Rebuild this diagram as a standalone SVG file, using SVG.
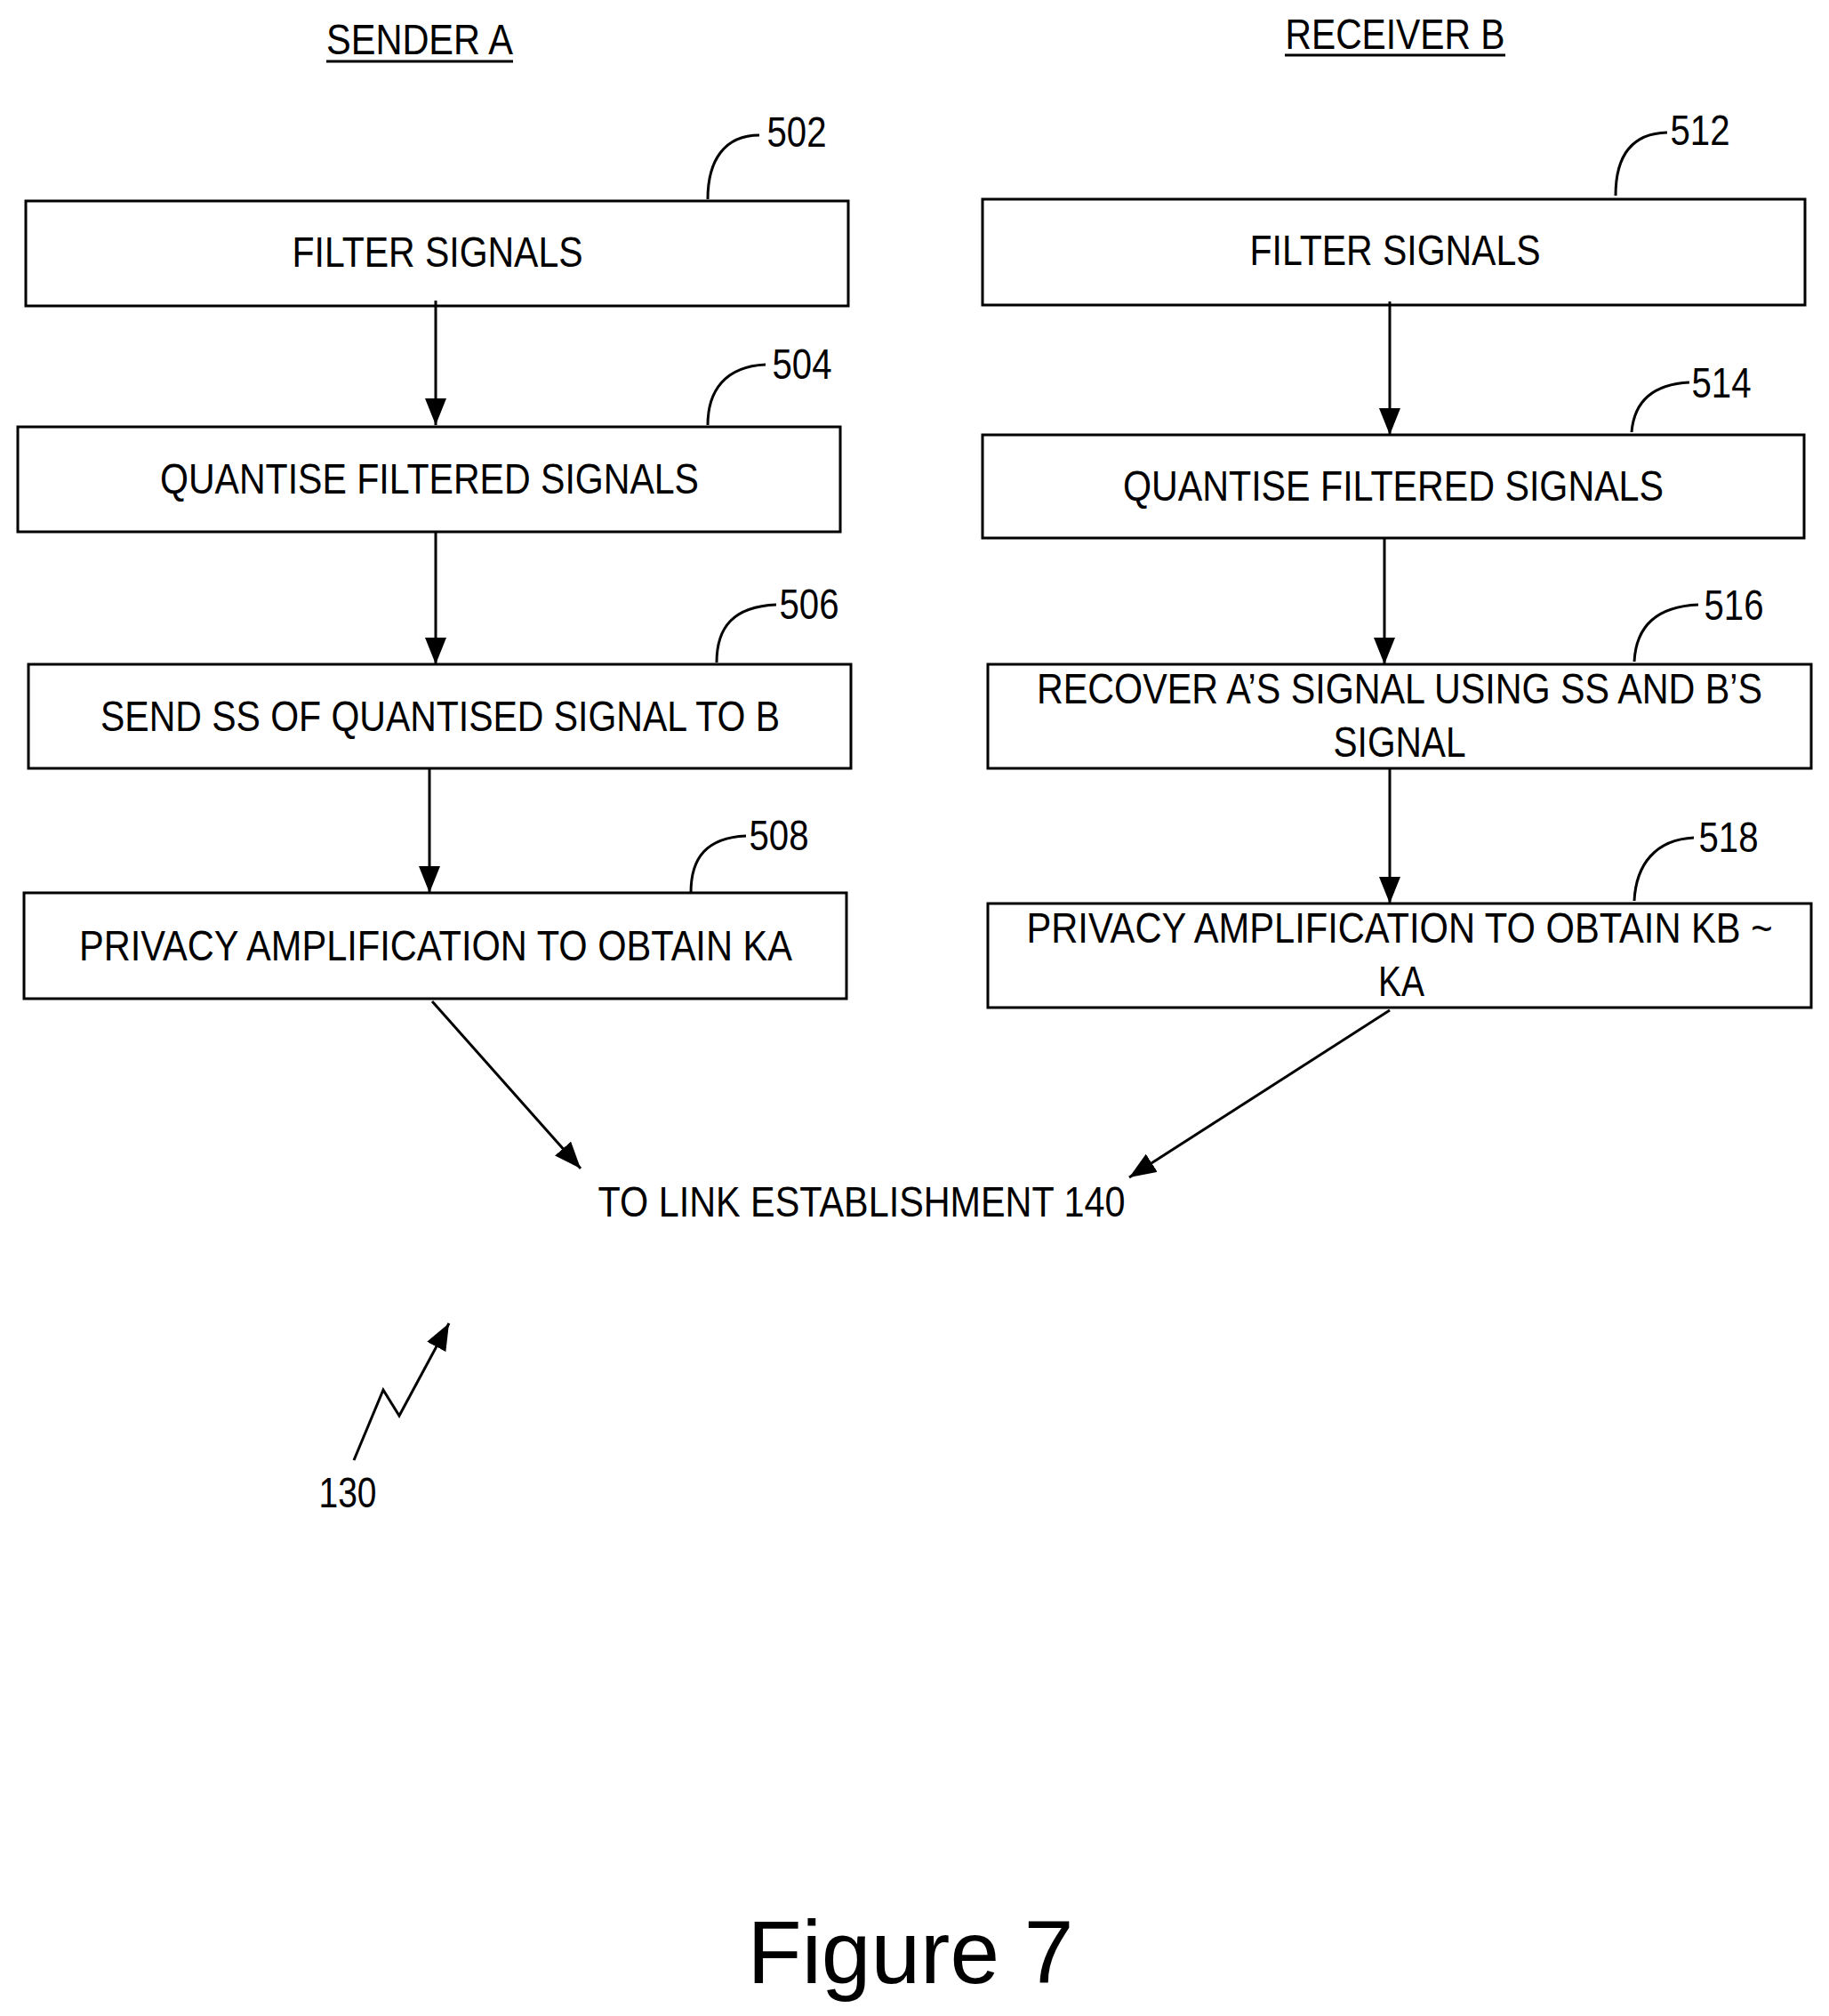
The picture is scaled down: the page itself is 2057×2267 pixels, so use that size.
<svg xmlns="http://www.w3.org/2000/svg" width="2057" height="2267" viewBox="0 0 2057 2267">
<style>
.b{fill:#fff;stroke:#000;stroke-width:3}
.t{font-family:"Liberation Sans",Arial,sans-serif;font-size:48px;text-anchor:middle;fill:#000}
.l{fill:none;stroke:#000;stroke-width:3}
</style>
<defs>
<marker id="m" viewBox="0 0 30 24" refX="30" refY="12" markerWidth="30" markerHeight="24" orient="auto" markerUnits="userSpaceOnUse"><path d="M0,0 L30,12 L0,24 z"/></marker></defs>
<rect width="2057" height="2267" fill="#fff"/>
<text class="t" x="472" y="61" textLength="210" lengthAdjust="spacingAndGlyphs">SENDER A</text><line class="l" x1="367" y1="69" x2="577" y2="69"/>
<text class="t" x="1569" y="55" textLength="247" lengthAdjust="spacingAndGlyphs">RECEIVER B</text><line class="l" x1="1445" y1="62" x2="1693" y2="62"/>
<g id="n502"><rect class="b" x="29" y="226" width="925" height="118"/><text class="t" x="492" y="300" textLength="327" lengthAdjust="spacingAndGlyphs">FILTER SIGNALS</text><path class="l" d="M796,224 C796,180 815,152 854,152"/><text class="t" x="896" y="165" textLength="67" lengthAdjust="spacingAndGlyphs">502</text></g>
<g id="n504"><rect class="b" x="20" y="480" width="925" height="118"/><text class="t" x="483" y="555" textLength="606" lengthAdjust="spacingAndGlyphs">QUANTISE FILTERED SIGNALS</text><path class="l" d="M796,478 C796,440 815,412 861,410"/><text class="t" x="902" y="426" textLength="67" lengthAdjust="spacingAndGlyphs">504</text></g>
<g id="n506"><rect class="b" x="32" y="747" width="925" height="117"/><text class="t" x="495" y="822" textLength="764" lengthAdjust="spacingAndGlyphs">SEND SS OF QUANTISED SIGNAL TO B</text><path class="l" d="M806,745 C806,705 825,682 873,680"/><text class="t" x="910" y="696" textLength="67" lengthAdjust="spacingAndGlyphs">506</text></g>
<g id="n508"><rect class="b" x="27" y="1004" width="925" height="119"/><text class="t" x="490" y="1080" textLength="802" lengthAdjust="spacingAndGlyphs">PRIVACY AMPLIFICATION TO OBTAIN KA</text><path class="l" d="M777,1004 C777,964 795,942 839,940"/><text class="t" x="876" y="956" textLength="67" lengthAdjust="spacingAndGlyphs">508</text></g>
<g id="n512"><rect class="b" x="1105" y="224" width="925" height="119"/><text class="t" x="1569" y="298" textLength="327" lengthAdjust="spacingAndGlyphs">FILTER SIGNALS</text><path class="l" d="M1817,220 C1817,175 1835,150 1875,149"/><text class="t" x="1912" y="163" textLength="67" lengthAdjust="spacingAndGlyphs">512</text></g>
<g id="n514"><rect class="b" x="1105" y="489" width="924" height="116"/><text class="t" x="1567" y="563" textLength="608" lengthAdjust="spacingAndGlyphs">QUANTISE FILTERED SIGNALS</text><path class="l" d="M1835,486 C1838,450 1860,432 1900,430"/><text class="t" x="1936" y="447" textLength="67" lengthAdjust="spacingAndGlyphs">514</text></g>
<g id="n516"><rect class="b" x="1111" y="747" width="926" height="117"/><text class="t" x="1574" y="791" textLength="816" lengthAdjust="spacingAndGlyphs">RECOVER A’S SIGNAL USING SS AND B’S</text><text class="t" x="1574" y="851" textLength="149" lengthAdjust="spacingAndGlyphs">SIGNAL</text><path class="l" d="M1838,744 C1840,705 1862,682 1910,680"/><text class="t" x="1950" y="697" textLength="67" lengthAdjust="spacingAndGlyphs">516</text></g>
<g id="n518"><rect class="b" x="1111" y="1016" width="926" height="117"/><text class="t" x="1574" y="1060" textLength="839" lengthAdjust="spacingAndGlyphs">PRIVACY AMPLIFICATION TO OBTAIN KB ~</text><text class="t" x="1576" y="1120" textLength="52" lengthAdjust="spacingAndGlyphs">KA</text><path class="l" d="M1838,1013 C1840,972 1862,944 1905,942"/><text class="t" x="1944" y="958" textLength="67" lengthAdjust="spacingAndGlyphs">518</text></g>
<g id="end"><text class="t" x="969" y="1368" textLength="593" lengthAdjust="spacingAndGlyphs">TO LINK ESTABLISHMENT 140</text></g>
<g id="ref130"><path class="l" d="M398,1642 L431,1563 L449,1592 L505,1488" marker-end="url(#m)"/><text class="t" x="391" y="1695" textLength="65" lengthAdjust="spacingAndGlyphs">130</text></g>
<g id="connectors">
<line class="l" x1="490" y1="338" x2="490" y2="478" marker-end="url(#m)"/>
<line class="l" x1="490" y1="598" x2="490" y2="747" marker-end="url(#m)"/>
<line class="l" x1="483" y1="864" x2="483" y2="1004" marker-end="url(#m)"/>
<line class="l" x1="1563" y1="339" x2="1563" y2="489" marker-end="url(#m)"/>
<line class="l" x1="1557" y1="605" x2="1557" y2="747" marker-end="url(#m)"/>
<line class="l" x1="1563" y1="864" x2="1563" y2="1016" marker-end="url(#m)"/>
<line class="l" x1="486" y1="1126" x2="653" y2="1314" marker-end="url(#m)"/>
<line class="l" x1="1563" y1="1136" x2="1270" y2="1324" marker-end="url(#m)"/>
</g>
<text x="1024" y="2230" style="font-family:'Liberation Sans',Arial,sans-serif;font-size:100px;text-anchor:middle">Figure 7</text>
</svg>
